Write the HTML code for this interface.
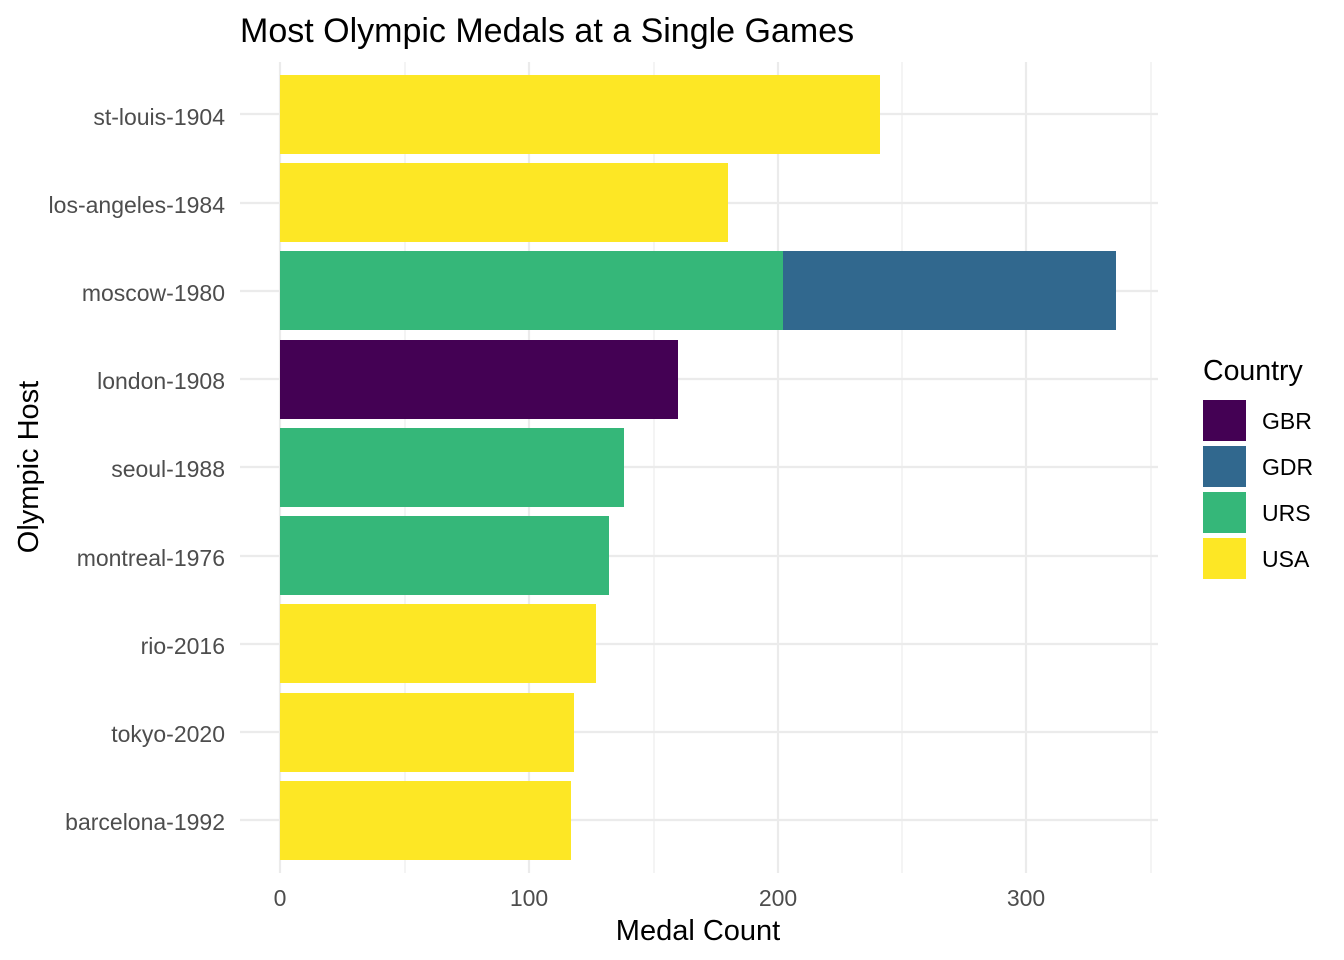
<!DOCTYPE html>
<html><head><meta charset="utf-8"><style>
html,body{margin:0;padding:0;background:#fff;}
svg{display:block;font-family:"Liberation Sans",Arial,sans-serif;}
</style></head><body>
<svg width="1344" height="960" viewBox="0 0 1344 960" xmlns="http://www.w3.org/2000/svg">
<rect width="1344" height="960" fill="#fff"/>
<g stroke="#ebebeb" stroke-width="1.1">
<line x1="405" y1="62" x2="405" y2="873"/><line x1="654" y1="62" x2="654" y2="873"/>
<line x1="902" y1="62" x2="902" y2="873"/><line x1="1151" y1="62" x2="1151" y2="873"/>
</g>
<g stroke="#ebebeb" stroke-width="2.2">
<line x1="280" y1="62" x2="280" y2="873"/><line x1="529" y1="62" x2="529" y2="873"/>
<line x1="778" y1="62" x2="778" y2="873"/><line x1="1026" y1="62" x2="1026" y2="873"/>
<line x1="240" y1="114" x2="1158" y2="114"/><line x1="240" y1="203" x2="1158" y2="203"/>
<line x1="240" y1="291" x2="1158" y2="291"/><line x1="240" y1="379" x2="1158" y2="379"/>
<line x1="240" y1="467" x2="1158" y2="467"/><line x1="240" y1="556" x2="1158" y2="556"/>
<line x1="240" y1="644" x2="1158" y2="644"/><line x1="240" y1="732" x2="1158" y2="732"/>
<line x1="240" y1="820" x2="1158" y2="820"/>
</g>
<rect x="280" y="75" width="600" height="79" fill="#FDE725"/>
<rect x="280" y="163" width="448" height="79" fill="#FDE725"/>
<rect x="280" y="251" width="503" height="79" fill="#35B779"/>
<rect x="783" y="251" width="333" height="79" fill="#31688E"/>
<rect x="280" y="340" width="398" height="79" fill="#440154"/>
<rect x="280" y="428" width="344" height="79" fill="#35B779"/>
<rect x="280" y="516" width="329" height="79" fill="#35B779"/>
<rect x="280" y="604" width="316" height="79" fill="#FDE725"/>
<rect x="280" y="693" width="294" height="79" fill="#FDE725"/>
<rect x="280" y="781" width="291" height="79" fill="#FDE725"/>
<g fill="#4d4d4d" font-size="23" text-anchor="end">
<text x="225" y="125">st-louis-1904</text>
<text x="225" y="213">los-angeles-1984</text>
<text x="225" y="301">moscow-1980</text>
<text x="225" y="389">london-1908</text>
<text x="225" y="477">seoul-1988</text>
<text x="225" y="566">montreal-1976</text>
<text x="225" y="654">rio-2016</text>
<text x="225" y="742">tokyo-2020</text>
<text x="225" y="830">barcelona-1992</text>
</g>
<g fill="#4d4d4d" font-size="23" text-anchor="middle">
<text x="280" y="906">0</text><text x="529" y="906">100</text>
<text x="778" y="906">200</text><text x="1026" y="906">300</text>
</g>
<text x="698" y="940" font-size="29" text-anchor="middle" fill="#000">Medal Count</text>
<text transform="translate(38,467) rotate(-90)" font-size="29" text-anchor="middle" fill="#000">Olympic Host</text>
<text x="240" y="42" font-size="34" fill="#000">Most Olympic Medals at a Single Games</text>
<text x="1203" y="380" font-size="28.5" fill="#000">Country</text>
<rect x="1203" y="400" width="43" height="41" fill="#440154"/>
<rect x="1203" y="446" width="43" height="41" fill="#31688E"/>
<rect x="1203" y="492" width="43" height="41" fill="#35B779"/>
<rect x="1203" y="538" width="43" height="41" fill="#FDE725"/>
<g font-size="23" fill="#000">
<text x="1262" y="429">GBR</text><text x="1262" y="475">GDR</text>
<text x="1262" y="521">URS</text><text x="1262" y="567">USA</text>
</g>
</svg>
</body></html>
